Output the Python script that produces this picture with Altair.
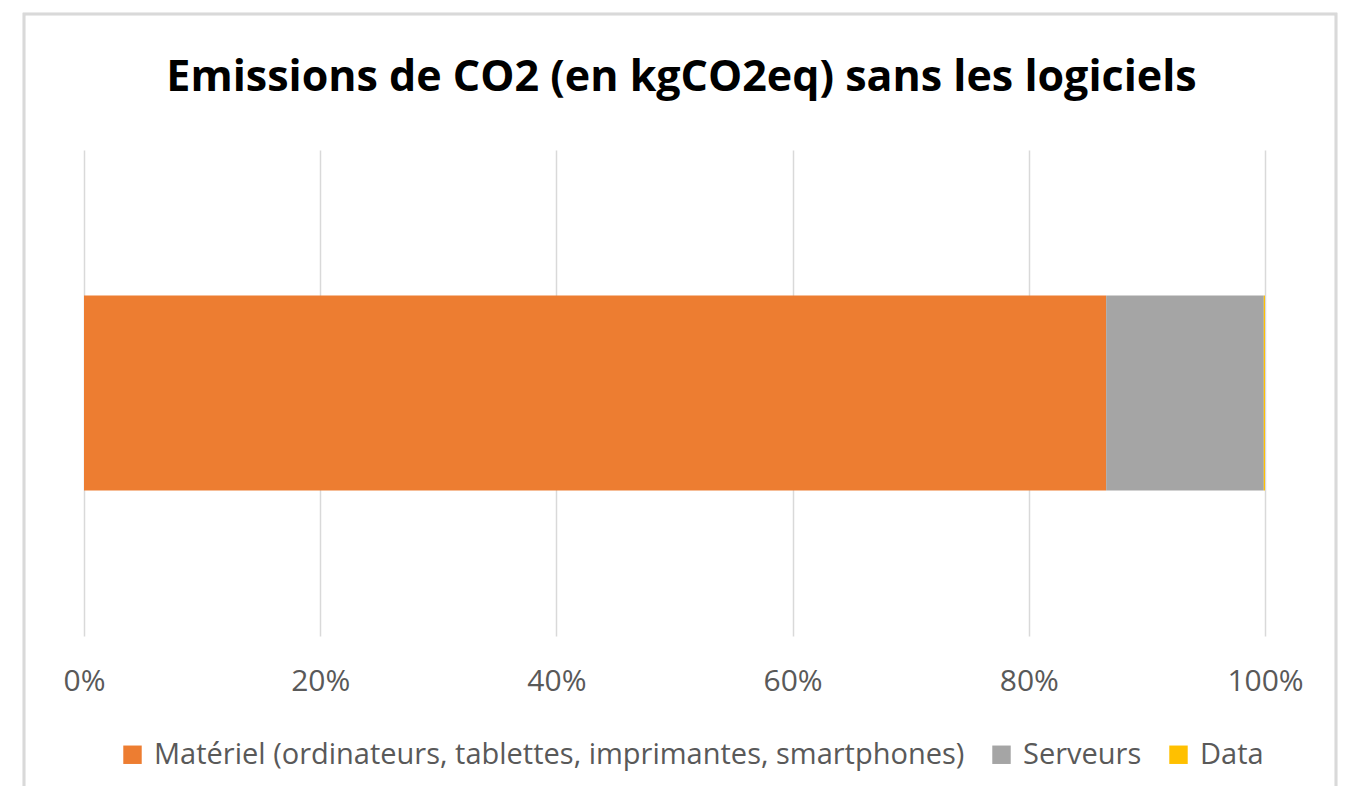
import altair as alt
import pandas as pd

categories = ["Matériel (ordinateurs, tablettes, imprimantes, smartphones)", "Serveurs", "Data"]
values = [86.55, 13.35, 0.10]
colors = ["#ED7D31", "#A5A5A5", "#FFC000"]
tick_values = [0, 0.2, 0.4, 0.6, 0.8, 1.0]

df = pd.DataFrame({
    "row": ["Emissions"] * len(categories),
    "cat": categories,
    "val": values,
    "ord": list(range(len(categories))),
})

FONT = "Open Sans"
W, H = 1181, 486

bars = alt.Chart(df).mark_bar(size=195).encode(
    x=alt.X("val:Q", stack="normalize",
            scale=alt.Scale(domain=[0, 1], nice=False),
            axis=alt.Axis(values=tick_values, format=".0%", title=None,
                          grid=True, gridColor="#d9d9d9", gridWidth=1.5,
                          domain=False, ticks=False, labelFlush=False,
                          labelFont=FONT, labelFontSize=30, labelColor="#595959",
                          labelPadding=30)),
    y=alt.Y("row:N", axis=None),
    color=alt.Color("cat:N", sort=categories,
                    scale=alt.Scale(domain=categories, range=colors),
                    legend=alt.Legend(title=None, orient="none", direction="horizontal",
                                      legendX=34, legendY=590,
                                      symbolType="square", symbolSize=340,
                                      symbolStrokeWidth=0, symbolOpacity=1,
                                      labelFont=FONT, labelFontSize=29,
                                      labelColor="#595959", labelOffset=7,
                                      columnPadding=22, labelLimit=1000)),
    order=alt.Order("ord:Q"),
)

frame = alt.Chart(df).mark_rect(fill=None, stroke="#d9d9d9", strokeWidth=2.5, clip=False).encode(
    x=alt.value(-60), x2=alt.value(1252), y=alt.value(-136), y2=alt.value(H + 200)
)

chart = alt.layer(frame, bars).properties(
    width=W, height=H,
    title=alt.TitleParams("Emissions de CO2 (en kgCO2eq) sans les logiciels",
                          font=FONT, fontSize=43, fontWeight="bold", color="#000000",
                          anchor="middle", offset=0, dx=7, dy=87),
    autosize=alt.AutoSizeParams(type="none"),
    padding={"left": 76, "top": 142, "right": 73, "bottom": 150},
).configure(background="white").configure_view(stroke=None)

chart.save("out.html", embed_options={"renderer": "svg", "actions": False})
